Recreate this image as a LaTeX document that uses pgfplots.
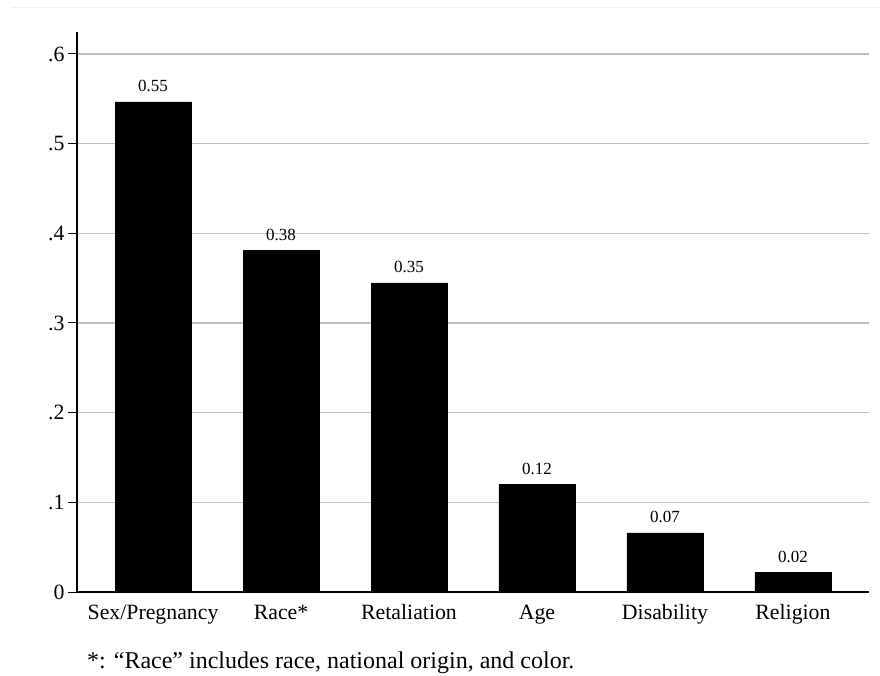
\documentclass[border=0pt]{standalone}
\usepackage{pgfplots}
\pgfplotsset{compat=1.18}
\usepackage{fontspec}
\setmainfont{Liberation Serif}
\begin{document}
\begin{tikzpicture}
\useasboundingbox (0,0) rectangle (880pt,675pt);
% faint border line of the graph region
\draw[gray!12, line width=1pt] (11pt,667pt) -- (880pt,667pt);
\begin{axis}[
    at={(77pt,83pt)}, anchor=south west,
    scale only axis, width=792pt, height=560pt,
    ybar, bar width=76pt, bar shift=0pt,
    xmin=-0.594, xmax=5.594, ymin=0, ymax=0.6245,
    axis x line=bottom, axis y line=left,
    axis line style={-, black, line width=1.2pt},
    xtick={0,1,2,3,4,5},
    xticklabels={Sex/Pregnancy,Race*,Retaliation,Age,Disability,Religion},
    xtick style={draw=none},
    ytick={0,0.1,0.2,0.3,0.4,0.5,0.6},
    yticklabels={0,.1,.2,.3,.4,.5,.6},
    tick align=outside,
    ytick style={black, line width=1pt},
    major tick length=9pt,
    ymajorgrids, grid style={gray!50, line width=1.4pt},
    ticklabel style={font=\fontsize{21.8}{22}\selectfont},
    xticklabel style={text height=0.7em, text depth=0.22em, yshift=-8pt},
    nodes near coords,
    point meta=explicit symbolic,
    every node near coord/.append style={font=\fontsize{17}{17}\selectfont, black, yshift=6.5pt},
    ]
\addplot[fill=black, draw=black] coordinates {
    (0,0.5465) [0.55]
    (1,0.381) [0.38]
    (2,0.3446) [0.35]
    (3,0.120) [0.12]
    (4,0.066) [0.07]
    (5,0.022) [0.02]
};
\end{axis}
\node[anchor=base west, inner sep=0, font=\fontsize{24}{24}\selectfont] at (87pt,7pt) {*: “Race” includes race, national origin, and color.};
\end{tikzpicture}
\end{document}
